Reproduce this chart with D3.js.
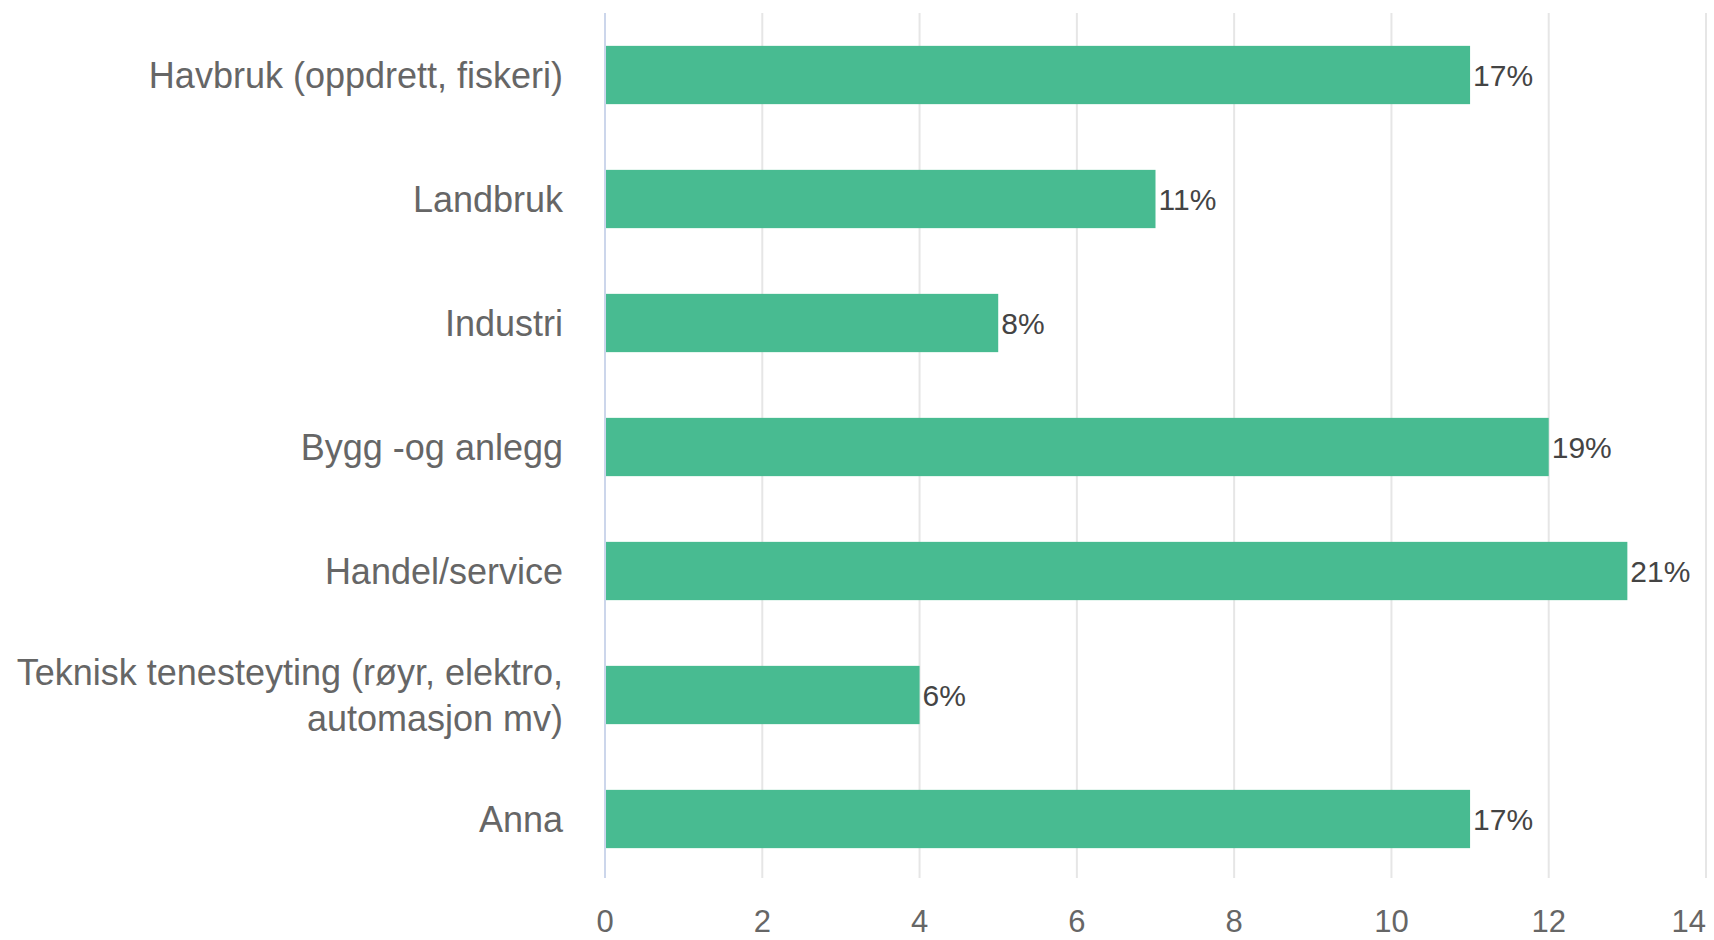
<!doctype html>
<html>
  <head>
    <meta charset="utf-8">
    <script src="https://cdn.jsdelivr.net/npm/d3@7/dist/d3.min.js"></script>
    <style>
      body { margin: 0; background: #fff; }
      svg { display: block; font-family: "Liberation Sans", Arial, sans-serif; }
      .grid line { stroke: #e6e6e6; stroke-width: 2; }
      .cat { fill: #666; font-size: 36px; }
      .tick-label { fill: #666; font-size: 31px; }
      .val { fill: #444; font-size: 30px; }
    </style>
  </head>
  <body>
    <svg width="1714" height="940"></svg>
    <script>
      var categories = [
        ["Havbruk (oppdrett, fiskeri)"],
        ["Landbruk"],
        ["Industri"],
        ["Bygg -og anlegg"],
        ["Handel/service"],
        ["Teknisk tenesteyting (røyr, elektro,", "automasjon mv)"],
        ["Anna"]
      ];
      var values = [11, 7, 5, 12, 13, 4, 11];
      var percentLabels = ["17%", "11%", "8%", "19%", "21%", "6%", "17%"];
      var xTicks = [0, 2, 4, 6, 8, 10, 12, 14];

      var svg = d3.select("svg");
      var plotLeft = 605, plotRight = 1706, plotTop = 13, plotBottom = 878;
      var labelX = 563;

      var x = d3.scaleLinear().domain([0, 14]).range([plotLeft, plotRight]);
      var y = d3.scaleBand()
        .domain(d3.range(categories.length))
        .range([plotTop, plotBottom + 3])
        .paddingInner(0.53)
        .paddingOuter(0.265);

      // grid lines
      svg.append("g").attr("class", "grid")
        .selectAll("line")
        .data(xTicks.filter(d => d > 0))
        .enter()
        .append("line")
          .attr("x1", d => x(d))
          .attr("x2", d => x(d))
          .attr("y1", plotTop)
          .attr("y2", plotBottom);

      // bars
      svg.selectAll("rect.bar")
        .data(values)
        .enter()
        .append("rect")
          .attr("class", "bar")
          .attr("x", x(0))
          .attr("y", (d, i) => y(i))
          .attr("width", d => x(d) - x(0))
          .attr("height", y.bandwidth())
          .style("fill", "#48bb91");

      // zero axis line
      svg.append("line")
        .attr("x1", x(0)).attr("x2", x(0))
        .attr("y1", plotTop).attr("y2", plotBottom)
        .style("stroke", "#ccd6eb")
        .style("stroke-width", 2);

      // value labels
      svg.selectAll("text.val")
        .data(values)
        .enter()
        .append("text")
          .attr("class", "val")
          .attr("x", d => x(d) + 3)
          .attr("y", (d, i) => y(i) + y.bandwidth() / 2)
          .attr("dy", "0.36em")
          .text((d, i) => percentLabels[i]);

      // category labels
      var cat = svg.selectAll("text.cat")
        .data(categories)
        .enter()
        .append("text")
          .attr("class", "cat")
          .attr("text-anchor", "end")
          .attr("x", labelX)
          .attr("y", (d, i) => y(i) + y.bandwidth() / 2);
      cat.selectAll("tspan")
        .data(d => d.map((t, j) => ({t: t, j: j, n: d.length})))
        .enter()
        .append("tspan")
          .attr("x", labelX)
          .attr("dy", d => d.j === 0 ? (0.36 - (d.n - 1) * 0.64) + "em" : "1.28em")
          .text(d => d.t);

      // x axis tick labels (last one kept inside the frame)
      svg.selectAll("text.tick-label")
        .data(xTicks)
        .enter()
        .append("text")
          .attr("class", "tick-label")
          .attr("text-anchor", (d, i) => i === xTicks.length - 1 ? "end" : "middle")
          .attr("x", d => x(d))
          .attr("y", 932)
          .text(d => d);
    </script>
  </body>
</html>
